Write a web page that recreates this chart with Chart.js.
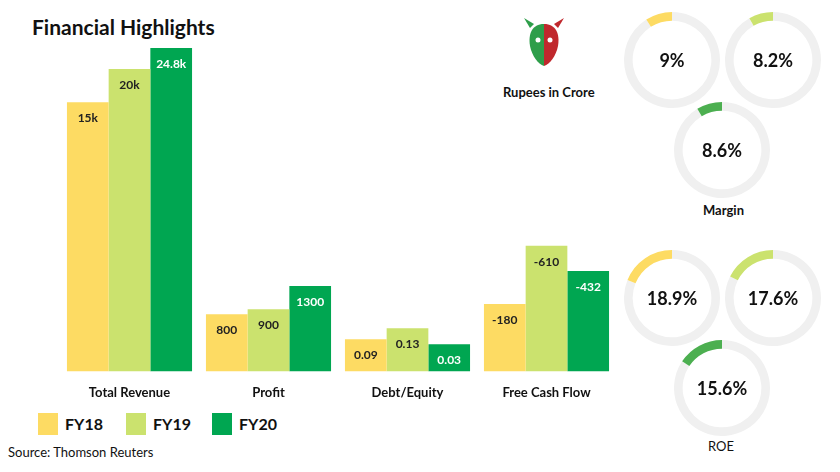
<!DOCTYPE html>
<html><head><meta charset="utf-8">
<script src="https://cdn.jsdelivr.net/npm/chart.js@4"></script>
<style>
body{margin:0;width:840px;height:472px;background:#fff;font-family:Lato,"Open Sans",sans-serif;position:relative;overflow:hidden}
.t{position:absolute;color:#111;white-space:nowrap}
canvas{position:absolute}
</style></head><body>
<div class="t" style="left:32px;top:14px;font-size:21px;font-weight:700">Financial Highlights</div>
<div class="t" style="left:503px;top:84px;font-size:13px;font-weight:700">Rupees in Crore</div>
<svg style="position:absolute;left:524px;top:16px" width="40" height="52" viewBox="0 0 40 52">
<path d="M20 8 C8 8 4 18 6 30 C8 40 14 48 20 50 Z" fill="#2e9e4a"/>
<path d="M20 8 C32 8 36 18 34 30 C32 40 26 48 20 50 Z" fill="#c0282d"/>
<path d="M6 12 L0 2 L10 8 Z" fill="#2e9e4a"/><path d="M34 12 L40 2 L30 8 Z" fill="#c0282d"/>
<circle cx="14" cy="24" r="2.5" fill="#fff"/><circle cx="26" cy="24" r="2.5" fill="#fff"/>
</svg>
<div class="t" style="left:703px;top:202px;font-size:13px;font-weight:700">Margin</div>
<div class="t" style="left:708px;top:438px;font-size:13px;">ROE</div>
<div id="leg"></div>
<div class="t" style="left:8px;top:444px;font-size:13px">Source: Thomson Reuters</div>
<canvas id="bar" style="left:60px;top:48px" width="556" height="359"></canvas>
<canvas id="d0" style="left:624px;top:12px" width="96" height="96"></canvas>
<canvas id="d1" style="left:725px;top:12px" width="96" height="96"></canvas>
<canvas id="d2" style="left:674px;top:102px" width="96" height="96"></canvas>
<canvas id="d3" style="left:624px;top:250px" width="96" height="96"></canvas>
<canvas id="d4" style="left:725px;top:250px" width="96" height="96"></canvas>
<canvas id="d5" style="left:674px;top:340px" width="96" height="96"></canvas>
<script>
const categories=["Total Revenue","Profit","Debt/Equity","Free Cash Flow"];
const seriesNames=["FY18","FY19","FY20"];
const colors=["#FDDB63","#CBE26E","#00A651"];
const fy18Labels=["15k","800","0.09","-180"];
const fy19Labels=["20k","900","0.13","-610"];
const fy20Labels=["24.8k","1300","0.03","-432"];
// bar heights as drawn in the reference (groups are not on a common scale)
const fy18Heights=[268,57,32,67];
const fy19Heights=[301,62,43,125];
const fy20Heights=[322,85,27,100];
const marginValues=[9,8.2,8.6];
const roeValues=[18.9,17.6,15.6];
const donutColors=["#FDDB63","#CBE26E","#4CAF50"];

const leg=document.getElementById('leg');
const legX=[38,126,212];
seriesNames.forEach((n,i)=>{
  leg.insertAdjacentHTML('beforeend',`<div style="position:absolute;left:${legX[i]}px;top:413px;width:20px;height:22px;background:${colors[i]}"></div><div class="t" style="left:${legX[i]+27}px;top:414px;font-size:16px;font-weight:700">${n}</div>`);
});

const labelSets=[fy18Labels,fy19Labels,fy20Labels];
const barLabels={id:'bl',afterDatasetsDraw(c){const x=c.ctx;x.save();x.font='bold 12px Lato';x.textAlign='center';x.textBaseline='middle';
 c.data.datasets.forEach((ds,di)=>{c.getDatasetMeta(di).data.forEach((b,i)=>{x.fillStyle=di==2?'#fff':'#222';x.fillText(labelSets[di][i],b.x,b.y+16);});});x.restore();}};
new Chart(document.getElementById('bar'),{type:'bar',
 data:{labels:categories,datasets:[fy18Heights,fy19Heights,fy20Heights].map((d,i)=>({label:seriesNames[i],data:d,backgroundColor:colors[i]}))},
 options:{responsive:false,animation:false,layout:{padding:0},
  datasets:{bar:{categoryPercentage:0.9,barPercentage:1}},
  plugins:{legend:{display:false},tooltip:{enabled:false}},
  scales:{y:{display:false,min:0,max:322},x:{grid:{display:false},border:{display:false},ticks:{color:'#111',font:{family:'Lato',size:13,weight:'bold'},padding:6}}}},
 plugins:[barLabels]});

function donut(id,v,col){
 const center={id:'c',afterDraw(c){const x=c.ctx;x.save();x.font='bold 18px Lato';x.fillStyle='#111';x.textAlign='center';x.textBaseline='middle';x.fillText(v+'%',48,49);x.restore();}};
 new Chart(document.getElementById(id),{type:'doughnut',
  data:{datasets:[{data:[100-v,v],backgroundColor:['#f0f0f0',col],borderWidth:0}]},
  options:{responsive:false,animation:false,cutout:'82%',plugins:{legend:{display:false},tooltip:{enabled:false}}},plugins:[center]});
}
marginValues.forEach((v,i)=>donut('d'+i,v,donutColors[i]));
roeValues.forEach((v,i)=>donut('d'+(i+3),v,donutColors[i]));
</script></body></html>
